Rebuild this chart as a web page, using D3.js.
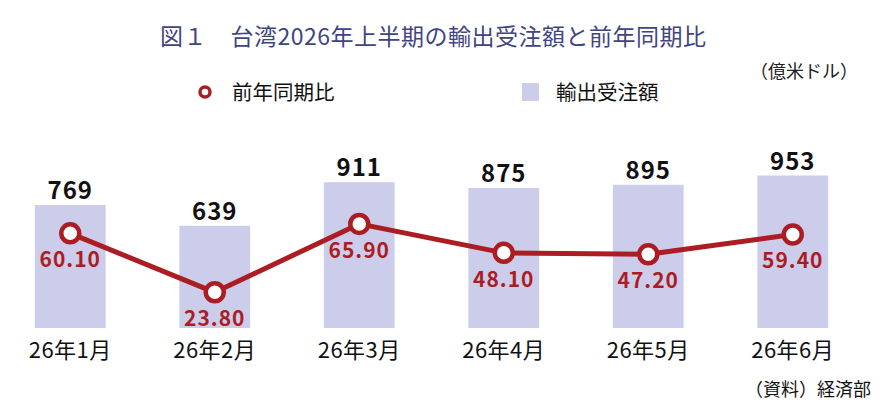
<!DOCTYPE html>
<html lang="ja">
<head>
<meta charset="UTF-8">
<script src="https://d3js.org/d3.v7.min.js"></script>
<style>
  body { margin: 0; background: #fff; }
  svg text { font-family: "Noto Sans CJK JP", "Noto Sans", sans-serif; }
</style>
</head>
<body>
<svg id="chart" width="896" height="410"></svg>
<script>
// data
const months = ["26年1月", "26年2月", "26年3月", "26年4月", "26年5月", "26年6月"];
const orders = [769, 639, 911, 875, 895, 953];          // 輸出受注額 (億米ドル)
const yoy = [60.10, 23.80, 65.90, 48.10, 47.20, 59.40];  // 前年同期比 (%)

const svg = d3.select("#chart");

const x = d3.scaleBand()
    .domain(months)
    .range([-2, 865])
    .paddingInner(0.51)
    .paddingOuter(0.255);

const yBar = d3.scaleLinear().domain([0, 1000]).range([328, 168]);
const yLine = d3.scaleLinear().domain([0, 100]).range([331, 168.5]);

const red = "#ac1d23";
const barColor = "#cbcdeb";

// title
svg.append("text")
    .attr("x", 160).attr("y", 45)
    .attr("font-size", 23)
    .attr("letter-spacing", 0.5)
    .attr("fill", "#41457f")
    .text("図１　台湾2026年上半期の輸出受注額と前年同期比");

// unit
svg.append("text")
    .attr("x", 858).attr("y", 78)
    .attr("text-anchor", "end")
    .attr("font-size", 18)
    .attr("fill", "#222")
    .text("（億米ドル）");

// legend
const lg = svg.append("g");
lg.append("circle")
    .attr("cx", 205).attr("cy", 92).attr("r", 5)
    .attr("fill", "#fff").attr("stroke", red).attr("stroke-width", 3.5);
lg.append("text")
    .attr("x", 232).attr("y", 100)
    .attr("font-size", 20.5).attr("fill", "#111")
    .text("前年同期比");
lg.append("rect")
    .attr("x", 522).attr("y", 83).attr("width", 17).attr("height", 18)
    .attr("fill", barColor);
lg.append("text")
    .attr("x", 556).attr("y", 100)
    .attr("font-size", 20.5).attr("fill", "#111")
    .text("輸出受注額");

// bars
svg.append("g").selectAll("rect")
    .data(orders)
    .join("rect")
    .attr("x", (d, i) => x(months[i]))
    .attr("y", d => yBar(d))
    .attr("width", x.bandwidth())
    .attr("height", d => yBar(0) - yBar(d))
    .attr("fill", barColor);

// bar values
svg.append("g").selectAll("text")
    .data(orders)
    .join("text")
    .attr("x", (d, i) => x(months[i]) + x.bandwidth() / 2)
    .attr("y", d => yBar(d) - 6)
    .attr("text-anchor", "middle")
    .attr("font-size", 24)
    .attr("font-weight", "bold")
    .attr("letter-spacing", 1)
    .attr("fill", "#111")
    .text(d => d);

// month labels
svg.append("g").selectAll("text")
    .data(months)
    .join("text")
    .attr("x", d => x(d) + x.bandwidth() / 2)
    .attr("y", 358)
    .attr("text-anchor", "middle")
    .attr("font-size", 22)
    .attr("letter-spacing", 0.5)
    .attr("fill", "#111")
    .text(d => d);

// line
const line = d3.line()
    .x((d, i) => x(months[i]) + x.bandwidth() / 2)
    .y(d => yLine(d));

svg.append("path")
    .datum(yoy)
    .attr("d", line)
    .attr("fill", "none")
    .attr("stroke", red)
    .attr("stroke-width", 5)
    .attr("stroke-linejoin", "round");

svg.append("g").selectAll("circle")
    .data(yoy)
    .join("circle")
    .attr("cx", (d, i) => x(months[i]) + x.bandwidth() / 2)
    .attr("cy", d => yLine(d))
    .attr("r", 9)
    .attr("fill", "#fff")
    .attr("stroke", red)
    .attr("stroke-width", 4.5);

svg.append("g").selectAll("text")
    .data(yoy)
    .join("text")
    .attr("x", (d, i) => x(months[i]) + x.bandwidth() / 2)
    .attr("y", d => yLine(d) + 34)
    .attr("text-anchor", "middle")
    .attr("font-size", 21)
    .attr("font-weight", "bold")
    .attr("letter-spacing", 1)
    .attr("fill", red)
    .text(d => d3.format(".2f")(d));

// source
svg.append("text")
    .attr("x", 871).attr("y", 396)
    .attr("text-anchor", "end")
    .attr("font-size", 18)
    .attr("fill", "#111")
    .text("（資料）経済部");
</script>
</body>
</html>
